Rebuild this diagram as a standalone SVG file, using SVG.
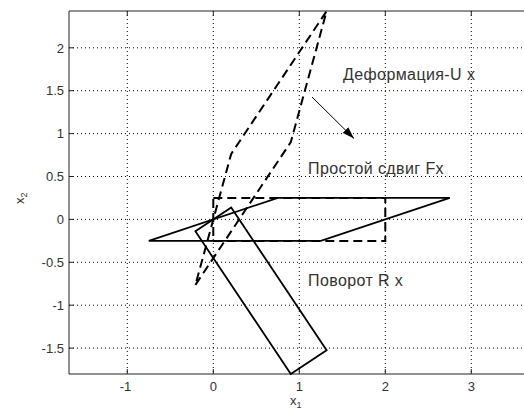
<svg xmlns="http://www.w3.org/2000/svg" width="524" height="413" viewBox="0 0 524 413">
<style>
.grid{stroke:#000;stroke-width:1;stroke-dasharray:1,3;fill:none}
.frame{stroke:#222;stroke-width:1;fill:none}
.tick{font-family:"Liberation Sans",Arial,sans-serif;font-size:13px;fill:#333}
.lbl{font-family:"Liberation Sans",Arial,sans-serif;font-size:16px;fill:#333;letter-spacing:0.4px}
.solid{stroke:#000;stroke-width:1.8;fill:none;stroke-linejoin:miter}
.dash{stroke:#000;stroke-width:2;fill:none;stroke-dasharray:9,5}
</style>
<defs>
<marker id="ah" viewBox="0 0 12 8" refX="12" refY="4" markerWidth="12" markerHeight="8" markerUnits="userSpaceOnUse" orient="auto">
<path d="M0,0 L12,4 L0,8 z" fill="#000"/>
</marker>
</defs>
<rect width="524" height="413" fill="#fff"/>
<g id="grid">
<path class="grid" d="M127.3,11V374M213.3,11V374M299.3,11V374M385.3,11V374M471.3,11V374"/>
<path class="grid" d="M69,47.8H524M69,90.7H524M69,133.6H524M69,176.5H524M69,219.4H524M69,262.3H524M69,305.2H524M69,348.1H524"/>
</g>
<g id="axes">
<path class="frame" d="M69,11H524M69,374H524M69,11V374"/>
<path class="frame" d="M127.3,11v5M213.3,11v5M299.3,11v5M385.3,11v5M471.3,11v5M127.3,374v-5M213.3,374v-5M299.3,374v-5M385.3,374v-5M471.3,374v-5"/>
<path class="frame" d="M69,47.8h5M69,90.7h5M69,133.6h5M69,176.5h5M69,219.4h5M69,262.3h5M69,305.2h5M69,348.1h5"/>
<g class="tick" text-anchor="end">
<text x="64" y="52.5">2</text>
<text x="64" y="95.4">1.5</text>
<text x="64" y="138.3">1</text>
<text x="64" y="181.2">0.5</text>
<text x="64" y="224.1">0</text>
<text x="64" y="267">-0.5</text>
<text x="64" y="309.9">-1</text>
<text x="64" y="352.8">-1.5</text>
</g>
<g class="tick" text-anchor="middle">
<text x="125.5" y="391">-1</text>
<text x="213.3" y="391">0</text>
<text x="299.3" y="391">1</text>
<text x="385.3" y="391">2</text>
<text x="471.3" y="391">3</text>
</g>
<text class="tick" x="290" y="405">x<tspan font-size="9" dy="3">1</tspan></text>
<text class="tick" transform="translate(24,204) rotate(-90)">x<tspan font-size="9" dy="3">2</tspan></text>
</g>
<g id="original">
<polygon class="dash" points="213.3,197.9 385.3,197.9 385.3,240.9 213.3,240.9"/>
</g>
<g id="shear">
<polygon class="solid" points="148.8,240.9 320.8,240.9 449.8,197.9 277.8,197.9"/>
</g>
<g id="rotation">
<polygon class="solid" points="231.2,207.5 326.6,350.2 290.8,374 195.4,231.3"/>
</g>
<g id="stretch">
<polygon class="dash" points="195.4,284.9 290.8,142.1 326.6,11.2 231.2,153.9"/>
</g>
<g id="connectors">
<line x1="312" y1="97" x2="354" y2="138.5" stroke="#000" stroke-width="1" marker-end="url(#ah)"/>
</g>
<g id="labels">
<text class="lbl" x="343" y="79.5">Деформация-U x</text>
<text class="lbl" x="308" y="173.5">Простой сдвиг Fx</text>
<text class="lbl" x="308" y="286">Поворот R x</text>
</g>
</svg>
